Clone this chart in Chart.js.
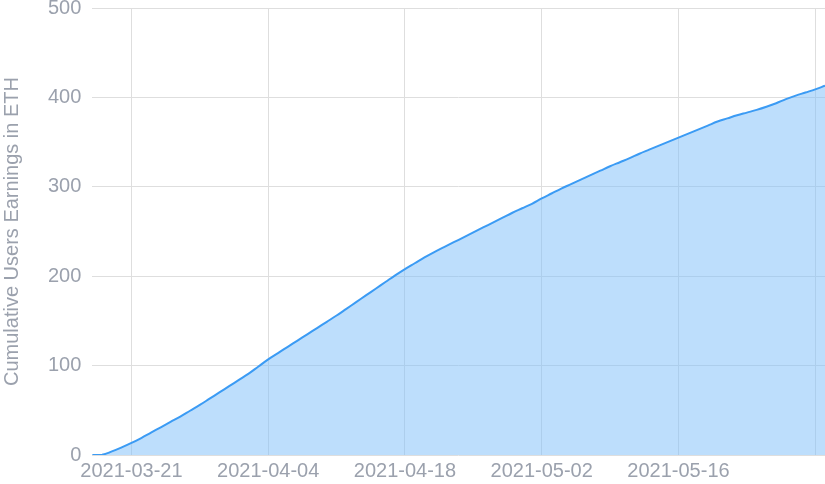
<!DOCTYPE html>
<html>
<head>
<meta charset="utf-8">
<script src="https://cdn.jsdelivr.net/npm/chart.js@4/dist/chart.umd.min.js"></script>
<style>
  html, body { margin: 0; padding: 0; background: #fff; }
  #wrap { width: 825px; height: 484px; }
</style>
</head>
<body>
<div id="wrap"><canvas id="chart"></canvas></div>
<script>
// daily dates, 2021-03-17 .. 2021-05-31
const dates = [
  '2021-03-17','2021-03-18','2021-03-19','2021-03-20','2021-03-21','2021-03-22','2021-03-23','2021-03-24',
  '2021-03-25','2021-03-26','2021-03-27','2021-03-28','2021-03-29','2021-03-30','2021-03-31',
  '2021-04-01','2021-04-02','2021-04-03','2021-04-04','2021-04-05','2021-04-06','2021-04-07','2021-04-08',
  '2021-04-09','2021-04-10','2021-04-11','2021-04-12','2021-04-13','2021-04-14','2021-04-15','2021-04-16',
  '2021-04-17','2021-04-18','2021-04-19','2021-04-20','2021-04-21','2021-04-22','2021-04-23','2021-04-24',
  '2021-04-25','2021-04-26','2021-04-27','2021-04-28','2021-04-29','2021-04-30',
  '2021-05-01','2021-05-02','2021-05-03','2021-05-04','2021-05-05','2021-05-06','2021-05-07','2021-05-08',
  '2021-05-09','2021-05-10','2021-05-11','2021-05-12','2021-05-13','2021-05-14','2021-05-15','2021-05-16',
  '2021-05-17','2021-05-18','2021-05-19','2021-05-20','2021-05-21','2021-05-22','2021-05-23','2021-05-24',
  '2021-05-25','2021-05-26','2021-05-27','2021-05-28','2021-05-29','2021-05-30','2021-05-31'
];

const earnings = [
  0, 0.3, 4, 8.5, 13.5, 19, 25, 31,
  37, 43, 49.5, 56, 63, 70, 77,
  84, 91, 99, 107, 114, 121, 128, 135,
  142, 149, 156, 163.5, 171, 178.5, 186, 193.5,
  201, 208, 214.5, 221, 227, 232.5, 238, 243.5,
  249, 254.5, 260, 265.5, 271, 276,
  281, 287, 292.5, 298, 303, 308, 313, 318,
  323, 327.5, 332, 337, 341.5, 346, 350.5, 355,
  359.5, 364, 368.5, 373, 376.5, 380, 383, 386,
  389.5, 393.5, 398, 402, 405.5, 409, 413
];

// grid lines every two weeks; last one carries no label
const gridDates = ['2021-03-21','2021-04-04','2021-04-18','2021-05-02','2021-05-16','2021-05-30'];
const labelDates = ['2021-03-21','2021-04-04','2021-04-18','2021-05-02','2021-05-16'];

const textColor = '#9ba1ad';
const gridColor = '#dedede';
const font = { family: 'Liberation Sans, Arial, sans-serif', size: 20 };

new Chart(document.getElementById('chart'), {
  type: 'line',
  data: {
    labels: dates,
    datasets: [{
      data: earnings,
      borderColor: '#3b9bf4',
      borderWidth: 2,
      backgroundColor: 'rgba(124,190,250,0.5)',
      fill: 'origin',
      pointRadius: 0,
      tension: 0.4
    }]
  },
  options: {
    responsive: true,
    maintainAspectRatio: false,
    animation: false,
    layout: { padding: { top: 0, right: 0, bottom: -3, left: 0 } },
    plugins: {
      legend: { display: false },
      tooltip: { enabled: false }
    },
    scales: {
      x: {
        afterFit: (scale) => { scale.paddingRight = 0; },
        grid: {
          drawTicks: false,
          color: (ctx) => gridDates.includes(dates[ctx.index]) ? gridColor : 'rgba(0,0,0,0)'
        },
        border: { display: false },
        ticks: {
          autoSkip: false,
          maxRotation: 0,
          padding: 4,
          color: textColor,
          font: font,
          callback: (val, i) => labelDates.includes(dates[i]) ? dates[i] : ''
        }
      },
      y: {
        min: 0,
        max: 500,
        afterFit: (scale) => { scale.paddingTop = 8; },
        grid: { drawTicks: false, color: gridColor },
        border: { display: false },
        ticks: {
          stepSize: 100,
          padding: 11,
          color: textColor,
          font: font
        },
        title: {
          display: true,
          text: 'Cumulative Users Earnings in ETH',
          color: textColor,
          padding: { top: 0, bottom: 13 },
          font: font
        }
      }
    }
  }
});
</script>
</body>
</html>
